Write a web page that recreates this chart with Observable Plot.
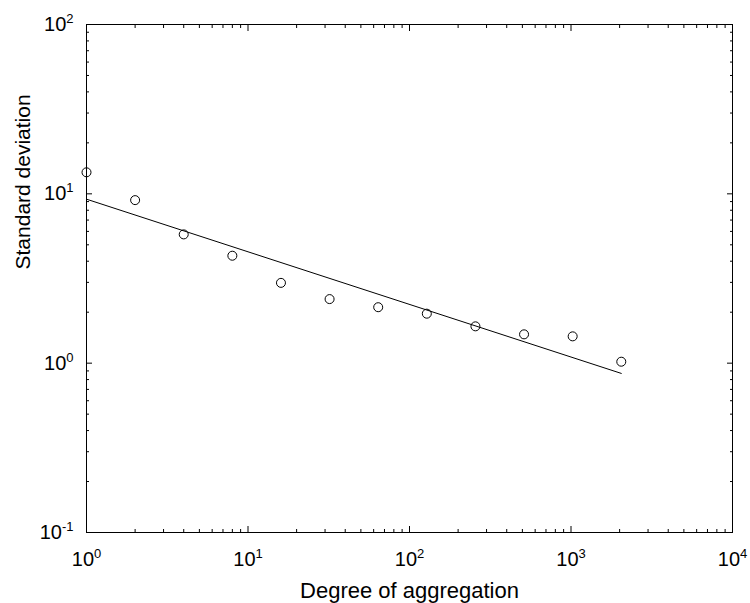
<!DOCTYPE html>
<html><head><meta charset="utf-8">
<script src="https://cdn.jsdelivr.net/npm/d3@7"></script>
<script src="https://cdn.jsdelivr.net/npm/@observablehq/plot@0.6"></script>
<style>body{margin:0;background:#fff}</style>
</head><body><div id="chart"></div>
<script>
// Data
const aggregation = [1, 2, 4, 8, 16, 32, 64, 128, 256, 512, 1024, 2048];
const stdDev = [13.4, 9.18, 5.76, 4.31, 2.98, 2.39, 2.14, 1.96, 1.65, 1.48, 1.44, 1.02];
const fitX = [1, 2048];
const fitY = [9.3, 0.87];
const xMajor = [1, 10, 100, 1000, 10000];
const yMajor = [0.1, 1, 10, 100];
const xTickLabels = ["10^0", "10^1", "10^2", "10^3", "10^4"];
const yTickLabels = ["10^-1", "10^0", "10^1", "10^2"];
const minorMult = [2, 3, 4, 5, 6, 7, 8, 9];
const xMinor = xMajor.slice(0, -1).flatMap(d => minorMult.map(m => d * m));
const yMinor = yMajor.slice(0, -1).flatMap(d => minorMult.map(m => d * m));
const xTitle = "Degree of aggregation";
const yTitle = "Standard deviation";

const points = aggregation.map((x, i) => ({x, y: stdDev[i]}));
const fit = fitX.map((x, i) => ({x, y: fitY[i]}));
const empty = () => "";

const chart = Plot.plot({
  width: 750,
  height: 603,
  marginLeft: 86,
  marginRight: 18,
  marginTop: 24,
  marginBottom: 71,
  style: {fontFamily: "'Liberation Sans', Arial, sans-serif", color: "black", background: "white"},
  x: {type: "log", domain: [1, 10000], label: null},
  y: {type: "log", domain: [0.1, 100], label: null},
  marks: [
    // inward major/minor ticks on all four sides
    Plot.axisX({anchor: "bottom", ticks: xMajor, tickSize: -6, tickFormat: empty, label: null}),
    Plot.axisX({anchor: "bottom", ticks: xMinor, tickSize: -3, tickFormat: empty, label: null}),
    Plot.axisX({anchor: "top", ticks: xMajor, tickSize: -6, tickFormat: empty, label: null}),
    Plot.axisX({anchor: "top", ticks: xMinor, tickSize: -3, tickFormat: empty, label: null}),
    Plot.axisY({anchor: "left", ticks: yMajor, tickSize: -6, tickFormat: empty, label: null}),
    Plot.axisY({anchor: "left", ticks: yMinor, tickSize: -3, tickFormat: empty, label: null}),
    Plot.axisY({anchor: "right", ticks: yMajor, tickSize: -6, tickFormat: empty, label: null}),
    Plot.axisY({anchor: "right", ticks: yMinor, tickSize: -3, tickFormat: empty, label: null}),
    // tick labels
    Plot.axisX({anchor: "bottom", ticks: xMajor, tickSize: 0, tickPadding: 19, fontSize: 20,
      tickFormat: d => xTickLabels[xMajor.indexOf(d)], label: null}),
    Plot.axisY({anchor: "left", ticks: yMajor, tickSize: 0, tickPadding: 13, fontSize: 20,
      tickFormat: d => yTickLabels[yMajor.indexOf(d)], label: null}),
    Plot.frame({stroke: "black", strokeWidth: 1}),
    Plot.line(fit, {x: "x", y: "y", stroke: "black", strokeWidth: 1}),
    Plot.dot(points, {x: "x", y: "y", r: 4.5, stroke: "black", strokeWidth: 1, fill: "none"}),
    Plot.text([xTitle], {frameAnchor: "bottom", dy: 58, fontSize: 22, lineAnchor: "middle"}),
    Plot.text([yTitle], {frameAnchor: "left", dx: -63, dy: -9, rotate: -90, fontSize: 21, lineAnchor: "middle"})
  ]
});

// Render "10^k" tick labels with a real superscript
chart.querySelectorAll("text").forEach(t => {
  const s = t.textContent;
  if (!s.includes("^")) return;
  const [base, exp] = s.split("^");
  t.textContent = "";
  const ns = "http://www.w3.org/2000/svg";
  const b = document.createElementNS(ns, "tspan");
  b.textContent = base;
  const e = document.createElementNS(ns, "tspan");
  e.textContent = exp;
  e.setAttribute("dy", "-8");
  e.setAttribute("font-size", "13");
  t.appendChild(b);
  t.appendChild(e);
});

document.getElementById("chart").appendChild(chart);
</script>
</body></html>
